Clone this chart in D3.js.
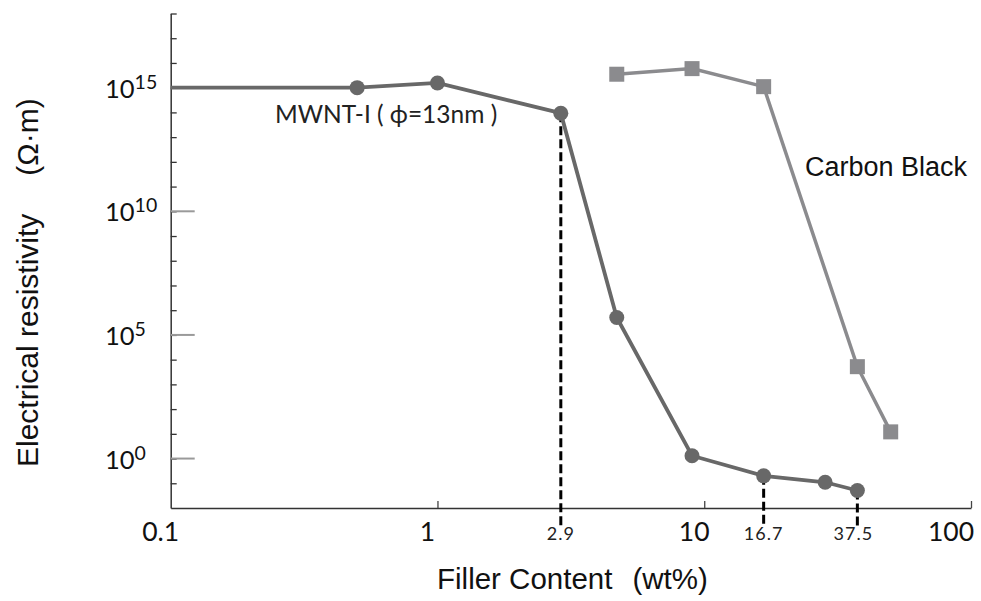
<!DOCTYPE html>
<html>
<head>
<meta charset="utf-8">
<script src="https://cdn.jsdelivr.net/npm/d3@7"></script>
<style>
  html, body { margin: 0; padding: 0; background: #fff; }
  svg { display: block; }
</style>
</head>
<body>
<svg id="chart" width="981" height="601"></svg>
<script>
// ---- data ----
const mwntContent = [0.1, 0.5, 1, 2.9, 4.7, 9, 16.7, 28.4, 37.5];
const mwntResistivity = [1e15, 1e15, 1.55e15, 9.3e13, 5.1e5, 1.3, 0.2, 0.11, 0.051];
const cbContent = [4.7, 9, 16.7, 37.5, 50];
const cbResistivity = [3.5e15, 5.9e15, 1.1e15, 5.2e3, 12];
const xTickValues = [0.1, 1, 10, 100];
const xTickLabels = ["0.1", "1", "10", "100"];
const markedContent = [2.9, 16.7, 37.5];
const markedLabels = ["2.9", "16.7", "37.5"];
const yMajorExp = [0, 5, 10, 15];
const yMinorExp = [-1, 0, 1, 2, 3, 4, 5, 6, 7, 8, 9, 10, 11, 12, 13, 14, 15, 16, 17, 18];
const mwntLabel = "MWNT-I ( \u03D5=13nm )";
const cbLabel = "Carbon Black";
const xTitle = "Filler Content";
const xUnit = "(wt%)";
const yTitle = "Electrical resistivity";
const yUnit = "(\u03A9\u00B7m)";

// ---- layout ----
const svg = d3.select("#chart");
const x = d3.scaleLog().domain([0.1, 100]).range([170.7, 971]);
const y = d3.scaleLog().domain([1e-2, 1e18]).range([508, 13.5]);

const cMWNT = "#686868";
const cCB = "#8b8b8e";
const tickFont = "Lato, 'Open Sans', sans-serif";
const titleFont = "'Liberation Sans', Arial, sans-serif";

// left axis with minor ticks inside
const yAxis = d3.axisLeft(y)
  .tickValues(yMinorExp.map(e => Math.pow(10, e)))
  .tickSize(-6).tickSizeOuter(0).tickFormat("");
const gy = svg.append("g").attr("transform", `translate(${x(0.1)},0)`).call(yAxis);
gy.select(".domain").attr("stroke", "#333").attr("stroke-width", 1.5);
gy.selectAll(".tick line").attr("stroke", "#333").attr("stroke-width", 1.3);

// major gray ticks
svg.append("g").selectAll("line").data(yMajorExp).join("line")
  .attr("x1", x(0.1)).attr("x2", x(0.1) + 24)
  .attr("y1", d => y(Math.pow(10, d))).attr("y2", d => y(Math.pow(10, d)))
  .attr("stroke", "#9a9a9a").attr("stroke-width", 2);

// bottom axis
const xAxis = d3.axisBottom(x).tickValues([1, 10, 100]).tickSize(-7).tickSizeOuter(0).tickFormat("");
const gx = svg.append("g").attr("transform", `translate(0,${y(1e-2)})`).call(xAxis);
gx.select(".domain").attr("stroke", "#333").attr("stroke-width", 1.5);
gx.selectAll(".tick line").attr("stroke", "#444").attr("stroke-width", 1.3);

// y tick labels with superscripts
const yl = svg.append("g").selectAll("text").data(yMajorExp).join("text")
  .attr("x", 105).attr("y", d => y(Math.pow(10, d)) + 10)
  .attr("font-family", tickFont).attr("font-size", 25.5).attr("fill", "#111");
yl.append("tspan").text("10");
yl.append("tspan").attr("dy", -9).attr("font-size", 19.5).text(d => String(d));

// x tick labels
svg.append("g").selectAll("text").data(xTickValues).join("text")
  .attr("x", (d, i) => x(d) - (i === 3 ? 20 : 10)).attr("y", 541)
  .attr("text-anchor", "middle")
  .attr("font-family", tickFont).attr("font-size", 26.5).attr("fill", "#111")
  .text((d, i) => xTickLabels[i]);

// marked content labels
svg.append("g").selectAll("text").data(markedContent).join("text")
  .attr("x", (d, i) => x(d) + (i === 2 ? -4 : 0)).attr("y", 540)
  .attr("text-anchor", "middle")
  .attr("font-family", tickFont).attr("font-size", 18).attr("letter-spacing", 1).attr("fill", "#222")
  .text((d, i) => markedLabels[i]);

// dashed drop lines
const mwntPts = mwntContent.map((c, i) => ({c, r: mwntResistivity[i]}));
const cbPts = cbContent.map((c, i) => ({c, r: cbResistivity[i]}));
svg.append("g").selectAll("line").data(markedContent).join("line")
  .attr("x1", d => x(d)).attr("x2", d => x(d))
  .attr("y1", d => y(mwntPts.find(p => p.c === d).r)).attr("y2", 526)
  .attr("stroke", "#000").attr("stroke-width", 3).attr("stroke-dasharray", "9,4");

const line = d3.line().x(d => x(d.c)).y(d => y(d.r));

// carbon black
svg.append("path").datum(cbPts).attr("d", line)
  .attr("fill", "none").attr("stroke", cCB).attr("stroke-width", 3.5);
svg.append("g").selectAll("rect").data(cbPts).join("rect")
  .attr("x", d => x(d.c) - 7.5).attr("y", d => y(d.r) - 7.5)
  .attr("width", 15).attr("height", 15).attr("fill", cCB);

// MWNT
svg.append("path").datum(mwntPts).attr("d", line)
  .attr("fill", "none").attr("stroke", cMWNT).attr("stroke-width", 3.8);
svg.append("g").selectAll("circle").data(mwntPts.slice(1)).join("circle")
  .attr("cx", d => x(d.c)).attr("cy", d => y(d.r)).attr("r", 7.5).attr("fill", cMWNT);

// series labels
svg.append("text").attr("x", 275).attr("y", 123)
  .attr("font-family", tickFont).attr("font-size", 24.5).attr("fill", "#222").text(mwntLabel);
svg.append("text").attr("x", 805).attr("y", 176)
  .attr("font-family", titleFont).attr("font-size", 27).attr("fill", "#111").text(cbLabel);

// axis titles
const xt = svg.append("text").attr("x", 437).attr("y", 589)
  .attr("font-family", titleFont).attr("font-size", 29.5).attr("fill", "#111");
xt.append("tspan").text(xTitle);
xt.append("tspan").attr("dx", 20).text(xUnit);

const yt = svg.append("text").attr("transform", "translate(38,467) rotate(-90)")
  .attr("font-family", titleFont).attr("font-size", 30).attr("fill", "#111");
yt.append("tspan").text(yTitle);
yt.append("tspan").attr("dx", 38).text(yUnit);
</script>
</body>
</html>
